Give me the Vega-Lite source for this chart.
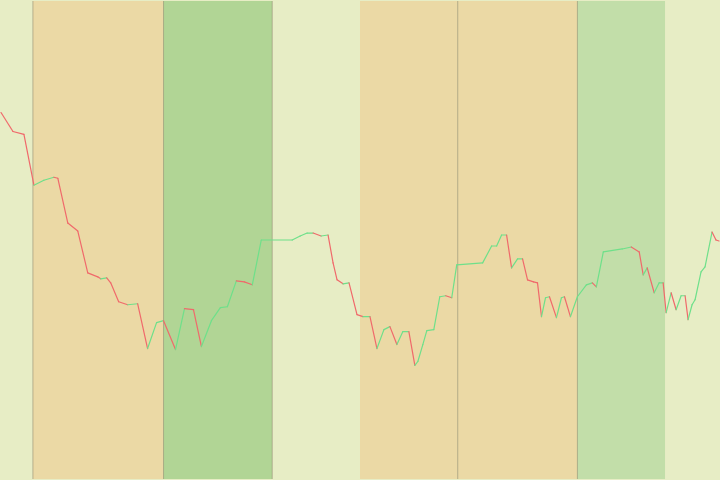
{
  "$schema": "https://vega.github.io/schema/vega-lite/v6.json",
  "width": 720,
  "height": 480,
  "autosize": {"type": "fit", "contains": "padding"},
  "padding": 0,
  "background": "#e7edc5",
  "config": {"view": {"stroke": null}},
  "datasets": {
    "bands": [
      {"start": 0, "end": 6.4, "regime": "neutral"},
      {"start": 6.4, "end": 32.6, "regime": "bear"},
      {"start": 32.6, "end": 54.4, "regime": "bull"},
      {"start": 54.4, "end": 72, "regime": "neutral"},
      {"start": 72, "end": 91.6, "regime": "bear"},
      {"start": 91.6, "end": 115.6, "regime": "bear"},
      {"start": 115.6, "end": 133.2, "regime": "mild_bull"},
      {"start": 133.2, "end": 144, "regime": "neutral"}
    ],
    "dividers": [
      {"t": 6.4}, {"t": 32.6}, {"t": 54.4}, {"t": 91.6}, {"t": 115.6}
    ],
    "prices": [
      {"t": 0, "v": 92}, {"t": 2.4, "v": 87.25}, {"t": 4.6, "v": 86.5}, {"t": 6.6, "v": 73.75},
      {"t": 8.6, "v": 75}, {"t": 10.6, "v": 75.75}, {"t": 11.4, "v": 75.5}, {"t": 13.4, "v": 64.25},
      {"t": 15.4, "v": 62.25}, {"t": 17.4, "v": 51.75}, {"t": 19.4, "v": 50.75}, {"t": 20, "v": 50.25},
      {"t": 21.2, "v": 50.5}, {"t": 22, "v": 49.25}, {"t": 23.6, "v": 44.5}, {"t": 25.4, "v": 43.75},
      {"t": 27.4, "v": 44}, {"t": 29.4, "v": 32.75}, {"t": 31.2, "v": 39.25}, {"t": 32.6, "v": 39.75},
      {"t": 35, "v": 32.5}, {"t": 36.8, "v": 42.75}, {"t": 38.6, "v": 42.5}, {"t": 40.2, "v": 33.25},
      {"t": 42.2, "v": 39.75}, {"t": 44, "v": 43}, {"t": 45.4, "v": 43.25}, {"t": 47.2, "v": 49.75},
      {"t": 48.8, "v": 49.5}, {"t": 50.4, "v": 48.75}, {"t": 52.2, "v": 60}, {"t": 58.4, "v": 60},
      {"t": 60, "v": 61}, {"t": 61.4, "v": 61.75}, {"t": 62.6, "v": 61.75}, {"t": 64.2, "v": 61},
      {"t": 65.6, "v": 61.25}, {"t": 66.6, "v": 54.25}, {"t": 67.4, "v": 50}, {"t": 68.6, "v": 49},
      {"t": 69.8, "v": 49.25}, {"t": 71.4, "v": 41.25}, {"t": 72.6, "v": 40.75}, {"t": 74, "v": 40.75},
      {"t": 75.4, "v": 32.75}, {"t": 76.8, "v": 37.5}, {"t": 78, "v": 38.25}, {"t": 79.4, "v": 33.75},
      {"t": 80.6, "v": 37}, {"t": 81.8, "v": 37}, {"t": 83, "v": 28.5}, {"t": 83.6, "v": 29.5},
      {"t": 84.6, "v": 33.75}, {"t": 85.4, "v": 37.25}, {"t": 86.8, "v": 37.5}, {"t": 88, "v": 45.75},
      {"t": 89.2, "v": 46}, {"t": 90.4, "v": 45.5}, {"t": 91.4, "v": 53.75}, {"t": 96.6, "v": 54.25},
      {"t": 98.4, "v": 58.5}, {"t": 99.4, "v": 58.5}, {"t": 100.4, "v": 61.25}, {"t": 101.4, "v": 61.25},
      {"t": 102.4, "v": 53}, {"t": 103.6, "v": 55.25}, {"t": 104.6, "v": 55.25}, {"t": 105.6, "v": 50},
      {"t": 106.8, "v": 49.5}, {"t": 107.6, "v": 49.25}, {"t": 108.4, "v": 40.75}, {"t": 109.2, "v": 45.5},
      {"t": 110, "v": 45.75}, {"t": 111.4, "v": 40.5}, {"t": 112.4, "v": 45.5}, {"t": 113, "v": 45.75},
      {"t": 114.2, "v": 40.75}, {"t": 115.6, "v": 45.75}, {"t": 117.4, "v": 48.75}, {"t": 118.6, "v": 49.25},
      {"t": 119.4, "v": 48.25}, {"t": 120.8, "v": 57}, {"t": 124.6, "v": 57.75}, {"t": 126.4, "v": 58.25},
      {"t": 128, "v": 57}, {"t": 128.8, "v": 51.25}, {"t": 129.6, "v": 53}, {"t": 131, "v": 46.75},
      {"t": 132, "v": 49.25}, {"t": 132.8, "v": 49.25}, {"t": 133.4, "v": 41.75}, {"t": 134.4, "v": 46.75},
      {"t": 135.4, "v": 42.5}, {"t": 136.4, "v": 46}, {"t": 137.2, "v": 46}, {"t": 137.8, "v": 40},
      {"t": 138.6, "v": 43.75}, {"t": 139.2, "v": 45}, {"t": 140.4, "v": 52}, {"t": 141.2, "v": 53.25},
      {"t": 142.6, "v": 62}, {"t": 143.4, "v": 60}, {"t": 144, "v": 59.75}
    ]
  },
  "layer": [
    {
      "data": {"name": "bands"},
      "mark": {"type": "rect", "stroke": null},
      "encoding": {
        "x": {"field": "start", "type": "quantitative", "scale": {"domain": [0, 144], "nice": false, "zero": false}, "axis": null},
        "x2": {"field": "end"},
        "color": {
          "field": "regime",
          "type": "nominal",
          "scale": {"domain": ["neutral", "bear", "bull", "mild_bull"], "range": ["#e7edc5", "#ebd9a5", "#b1d595", "#c2dea9"]},
          "legend": null
        }
      }
    },
    {
      "data": {"name": "dividers"},
      "mark": {"type": "rule", "color": "#8f8a70", "strokeWidth": 1, "opacity": 0.6},
      "encoding": {
        "x": {"field": "t", "type": "quantitative"}
      }
    },
    {
      "data": {"name": "prices"},
      "transform": [
        {"window": [{"op": "lead", "field": "t", "as": "t2"}, {"op": "lead", "field": "v", "as": "v2"}], "sort": [{"field": "t"}]},
        {"filter": "datum.t2 != null"}
      ],
      "mark": {"type": "rule", "strokeWidth": 1.2, "strokeCap": "round"},
      "encoding": {
        "x": {"field": "t", "type": "quantitative"},
        "x2": {"field": "t2"},
        "y": {"field": "v", "type": "quantitative", "scale": {"domain": [0, 120], "nice": false, "zero": false}, "axis": null},
        "y2": {"field": "v2"},
        "color": {
          "condition": {"test": "datum.v2 >= datum.v", "value": "#6ee08a"},
          "value": "#f0696b"
        }
      }
    }
  ]
}
